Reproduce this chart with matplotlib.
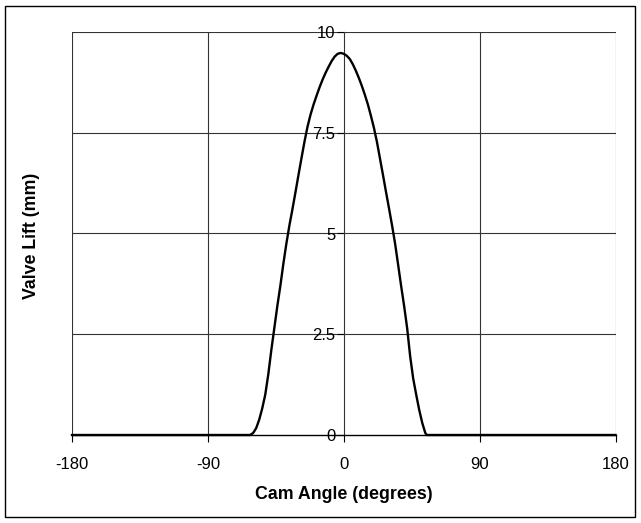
import matplotlib
matplotlib.use("Agg")
import matplotlib.pyplot as plt
from matplotlib.patches import Rectangle

plt.rcParams['font.family'] = ['Liberation Sans', 'DejaVu Sans']

angle = [-180, -62, -60, -58, -56, -54, -52, -50, -48, -46, -44, -42, -40, -38, -36,
         -34, -32, -30, -28, -26, -24, -22, -20, -18, -16, -14, -12, -10, -8, -6,
         -4, -2, 0, 2, 4, 6, 8, 10, 12, 14, 16, 18, 20, 22, 24, 26, 28, 30, 32,
         34, 36, 38, 40, 42, 44, 46, 48, 50, 52, 54, 55, 180]
lift = [0, 0, 0.05, 0.17, 0.38, 0.66, 1.0, 1.5, 2.1, 2.65, 3.2, 3.7, 4.25, 4.75, 5.2,
        5.6, 6.02, 6.45, 6.87, 7.28, 7.65, 7.95, 8.2, 8.42, 8.63, 8.82, 8.99, 9.14, 9.28, 9.39,
        9.46, 9.48, 9.46, 9.41, 9.33, 9.2, 9.04, 8.86, 8.66, 8.44, 8.2, 7.92, 7.62, 7.27, 6.86,
        6.45, 6.03, 5.62, 5.2, 4.75, 4.23, 3.7, 3.2, 2.65, 1.95, 1.4, 1.0, 0.62, 0.3, 0.05, 0, 0]

xticks = [-180, -90, 0, 90, 180]
yticks = [0, 2.5, 5, 7.5, 10]
ytick_labels = ['0', '2.5', '5', '7.5', '10']

fig = plt.figure(figsize=(6.41, 5.23), dpi=100)
fig.patches.append(Rectangle((5/641, 6/523), 630/641, 511/523, transform=fig.transFigure,
                             fill=False, edgecolor='black', linewidth=1.0))
ax = fig.add_axes([72/641, 1 - 435/523, 543.5/641, 403/523])

ax.set_xlim(-180, 180)
ax.set_ylim(0, 10)
ax.set_xticks(xticks)
ax.set_xticklabels([str(t) for t in xticks])
ax.set_yticks(yticks)
ax.set_yticklabels(ytick_labels)

for x in [-180, -90, 90, 180]:
    ax.axvline(x, color='#333333', linewidth=0.8, zorder=1)
for y in [2.5, 5, 7.5, 10]:
    ax.axhline(y, color='#333333', linewidth=0.8, zorder=1)

ax.spines['top'].set_visible(False)
ax.spines['right'].set_visible(False)
ax.spines['left'].set_position(('data', 0))
ax.spines['left'].set_color('#333333')
ax.spines['left'].set_linewidth(0.8)
ax.spines['bottom'].set_color('black')
ax.spines['bottom'].set_linewidth(1.0)

ax.tick_params(axis='x', direction='out', length=5, width=0.8, pad=11, labelsize=12)
ax.tick_params(axis='y', direction='out', length=5, width=0.8, pad=1, labelsize=12)

ax.plot(angle, lift, color='black', linewidth=1.7, zorder=3, clip_on=False)

ax.set_xlabel('Cam Angle (degrees)', fontsize=12.8, fontweight='bold', labelpad=10)
fig.text(32/641, 1 - 236/523, 'Valve Lift (mm)', rotation=90, fontsize=12.8,
         fontweight='bold', ha='center', va='center')

fig.savefig('out.png', dpi=100)
